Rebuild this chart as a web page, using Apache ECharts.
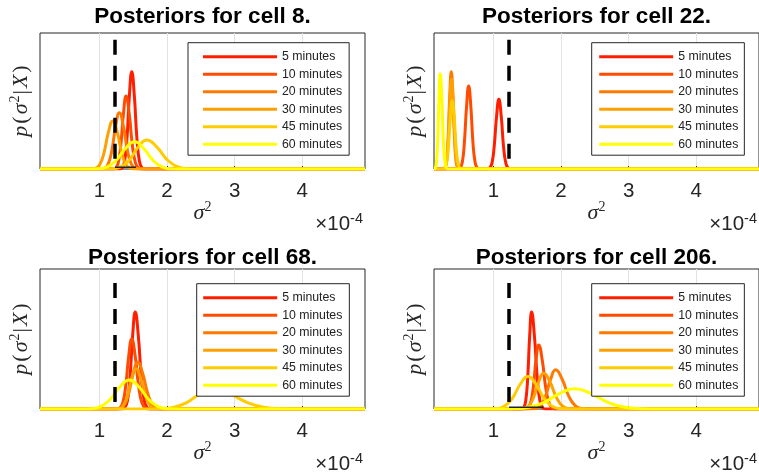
<!DOCTYPE html>
<html>
<head>
<meta charset="utf-8">
<script src="https://cdn.jsdelivr.net/npm/echarts@6/dist/echarts.min.js"></script>
<style>
  html, body { margin: 0; padding: 0; background: #fff; }
  #chart { width: 759px; height: 472px; }
</style>
</head>
<body>
<div id="chart"></div>
<script>
// ---- data (x in units of 1e-4, y as fraction of axis height) ----
const durations = ['5 minutes', '10 minutes', '20 minutes', '30 minutes', '45 minutes', '60 minutes'];
const cellIds = [8, 22, 68, 206];
const xTicks = [1, 2, 3, 4];
const trueVariance = 1.23;
const dashTop = [0.95, 0.95, 0.9, 0.9];
const markEnd = [1.54, null, null, 1.74];

const cell8 = [
  [[1.302,0],[1.337,0.008],[1.372,0.057],[1.408,0.232],[1.443,0.540],[1.478,0.715],[1.516,0.540],[1.553,0.232],[1.591,0.057],[1.628,0.008],[1.666,0]],
  [[1.199,0],[1.238,0.006],[1.277,0.043],[1.316,0.175],[1.355,0.405],[1.394,0.537],[1.441,0.405],[1.487,0.175],[1.534,0.043],[1.580,0.006],[1.627,0]],
  [[1.014,0],[1.070,0.005],[1.126,0.033],[1.183,0.135],[1.239,0.313],[1.295,0.414],[1.355,0.313],[1.415,0.135],[1.475,0.033],[1.535,0.005],[1.595,0]],
  [[0.867,0],[0.933,0.004],[0.999,0.028],[1.065,0.115],[1.131,0.267],[1.197,0.353],[1.265,0.267],[1.332,0.115],[1.400,0.028],[1.467,0.004],[1.535,0]],
  [[1.063,0],[1.190,0.002],[1.318,0.017],[1.445,0.069],[1.573,0.161],[1.700,0.213],[1.850,0.161],[2.000,0.069],[2.150,0.017],[2.300,0.002],[2.450,0]],
  [[0.845,0],[0.980,0.002],[1.115,0.016],[1.250,0.065],[1.385,0.151],[1.520,0.200],[1.655,0.151],[1.790,0.065],[1.925,0.016],[2.060,0.002],[2.195,0]]
];
const cell22 = [
  [[0.908,0],[0.942,0.006],[0.977,0.041],[1.011,0.166],[1.046,0.387],[1.080,0.512],[1.115,0.387],[1.149,0.166],[1.184,0.041],[1.218,0.006],[1.253,0]],
  [[0.476,0],[0.507,0.007],[0.539,0.049],[0.570,0.198],[0.602,0.461],[0.633,0.610],[0.665,0.461],[0.696,0.198],[0.728,0.049],[0.759,0.007],[0.791,0]],
  [[0.260,0],[0.283,0.008],[0.306,0.057],[0.330,0.232],[0.353,0.540],[0.376,0.715],[0.399,0.540],[0.423,0.232],[0.446,0.057],[0.469,0.008],[0.492,0]],
  [[0.256,0],[0.281,0.007],[0.306,0.053],[0.331,0.215],[0.355,0.498],[0.380,0.660],[0.405,0.498],[0.430,0.215],[0.454,0.053],[0.479,0.007],[0.504,0]],
  [[0.248,0],[0.276,0.006],[0.305,0.040],[0.333,0.163],[0.362,0.378],[0.390,0.500],[0.419,0.378],[0.447,0.163],[0.476,0.040],[0.504,0.006],[0.533,0]],
  [[0.122,0],[0.140,0.008],[0.158,0.056],[0.176,0.228],[0.194,0.529],[0.212,0.700],[0.235,0.529],[0.257,0.228],[0.280,0.056],[0.302,0.008],[0.325,0]]
];
const cell68 = [
  [[1.335,0],[1.374,0.008],[1.413,0.055],[1.452,0.225],[1.491,0.522],[1.530,0.692],[1.575,0.522],[1.620,0.225],[1.665,0.055],[1.710,0.008],[1.755,0]],
  [[1.253,0],[1.298,0.006],[1.343,0.040],[1.388,0.163],[1.433,0.378],[1.478,0.500],[1.529,0.378],[1.580,0.163],[1.631,0.040],[1.682,0.006],[1.733,0]],
  [[1.229,0],[1.296,0.004],[1.364,0.027],[1.431,0.109],[1.499,0.252],[1.566,0.334],[1.641,0.252],[1.716,0.109],[1.791,0.027],[1.866,0.004],[1.941,0]],
  [[1.221,0],[1.285,0.003],[1.349,0.023],[1.413,0.094],[1.476,0.219],[1.540,0.290],[1.611,0.219],[1.683,0.094],[1.754,0.023],[1.825,0.003],[1.896,0]],
  [[1.705,0],[1.900,0.002],[2.095,0.011],[2.290,0.046],[2.485,0.106],[2.680,0.140],[2.935,0.106],[3.190,0.046],[3.445,0.011],[3.700,0.002],[3.955,0]],
  [[0.730,0],[0.873,0.002],[1.016,0.017],[1.158,0.068],[1.301,0.157],[1.443,0.208],[1.586,0.157],[1.728,0.068],[1.871,0.017],[2.013,0.002],[2.156,0]]
];
const cell206 = [
  [[1.419,0],[1.448,0.008],[1.477,0.055],[1.507,0.225],[1.536,0.522],[1.565,0.692],[1.606,0.522],[1.648,0.225],[1.689,0.055],[1.730,0.008],[1.771,0]],
  [[1.464,0],[1.505,0.005],[1.546,0.037],[1.588,0.149],[1.629,0.346],[1.670,0.458],[1.723,0.346],[1.775,0.149],[1.828,0.037],[1.880,0.005],[1.933,0]],
  [[1.545,0],[1.620,0.003],[1.695,0.022],[1.770,0.091],[1.845,0.211],[1.920,0.280],[2.018,0.211],[2.115,0.091],[2.213,0.022],[2.310,0.003],[2.408,0]],
  [[1.368,0],[1.443,0.003],[1.518,0.020],[1.593,0.083],[1.668,0.193],[1.743,0.255],[1.837,0.193],[1.931,0.083],[2.024,0.020],[2.118,0.003],[2.212,0]],
  [[0.929,0],[1.045,0.003],[1.161,0.019],[1.278,0.075],[1.394,0.175],[1.510,0.232],[1.630,0.175],[1.750,0.075],[1.870,0.019],[1.990,0.003],[2.110,0]],
  [[1.075,0],[1.300,0.002],[1.525,0.012],[1.750,0.047],[1.975,0.109],[2.200,0.144],[2.448,0.109],[2.695,0.047],[2.943,0.012],[3.190,0.002],[3.438,0]]
];
const cells = [cell8, cell22, cell68, cell206];

// ---- layout / style ----
const X_MIN = 0.12, X_MAX = 4.93;
const palette = ['#ff1e00', '#ff4c00', '#ff7800', '#ffa000', '#ffcc00', '#ffff00'];
const SANS = '"Liberation Sans", Arial, sans-serif';
const SERIF = '"Liberation Serif", "DejaVu Serif", serif';
const INK = '#262626';

const panels = [
  { left: 40, top: 33, width: 325, height: 136 },
  { left: 434, top: 33, width: 325, height: 136 },
  { left: 40, top: 269, width: 325, height: 140 },
  { left: 434, top: 269, width: 325, height: 140 }
];
const legendPos = [
  { left: 188, top: 42.7, padL: 15, padR: 7 },
  { left: 591.7, top: 42.7, padL: 7.5, padR: 6 },
  { left: 196.7, top: 283.7, padL: 6.5, padR: 7 },
  { left: 591.7, top: 283.7, padL: 7.5, padR: 6 }
];
const titleY = [16.5, 16.5, 257.5, 257.5];

const series = [];
cells.forEach((curves, i) => {
  curves.forEach((pts, k) => {
    series.push({
      name: durations[k],
      type: 'line',
      xAxisIndex: i,
      yAxisIndex: i,
      data: [[X_MIN, 0]].concat(pts, [[X_MAX, 0]]),
      smooth: 0.5,
      symbol: 'none',
      lineStyle: { width: 3, color: palette[k] },
      itemStyle: { color: palette[k] },
      z: 2
    });
  });
  if (markEnd[i]) {
    series.push({
      type: 'line', xAxisIndex: i, yAxisIndex: i, silent: true, symbol: 'none',
      data: [[trueVariance, 0.012], [markEnd[i], 0.012]],
      lineStyle: { width: 1.5, color: '#222' }, z: 3
    });
  }
  series.push({
    type: 'line', xAxisIndex: i, yAxisIndex: i, silent: true, symbol: 'none',
    data: [[trueVariance, dashTop[i]], [trueVariance, 0]],
    lineStyle: { width: 3.5, color: '#000', type: [15, 11] }, z: 4
  });
});

const graphic = [];
panels.forEach((p, i) => {
  const cx = p.left + p.width / 2;
  const bottom = p.top + p.height;
  graphic.push({
    type: 'text', x: cx, y: titleY[i], z: 20,
    style: {
      text: 'Posteriors for cell ' + cellIds[i] + '.',
      fontSize: 22.5, fontWeight: 'bold', fontFamily: SANS, fill: '#000',
      align: 'center', verticalAlign: 'middle'
    }
  });
  graphic.push({
    type: 'text', x: p.left - 19, y: p.top + p.height / 2, rotation: Math.PI / 2, z: 20,
    style: {
      text: '{i|p}{n|(}{i|σ}{s|2}{n||}{i|X}{n|)}',
      align: 'center', verticalAlign: 'middle', fill: INK,
      rich: {
        i: { fontSize: 22, fontStyle: 'italic', fontFamily: SERIF, lineHeight: 26, fill: INK, padding: [0, 1, 0, 1] },
        n: { fontSize: 22, fontFamily: SERIF, lineHeight: 26, fill: INK, padding: [0, 1, 0, 1] },
        s: { fontSize: 14, fontFamily: SERIF, lineHeight: 14, verticalAlign: 'top', fill: INK }
      }
    }
  });
  graphic.push({
    type: 'text', x: cx, y: bottom + 44.5, z: 20,
    style: {
      text: '{i|σ}{s|2}',
      align: 'center', verticalAlign: 'middle', fill: INK,
      rich: {
        i: { fontSize: 22, fontStyle: 'italic', fontFamily: SERIF, lineHeight: 26, fill: INK },
        s: { fontSize: 14, fontFamily: SERIF, lineHeight: 14, verticalAlign: 'top', fill: INK }
      }
    }
  });
  graphic.push({
    type: 'text', x: p.left + p.width - 2, y: bottom + 55, z: 20,
    style: {
      text: '{n|×10}{s|-4}',
      align: 'right', verticalAlign: 'middle', fill: INK,
      rich: {
        n: { fontSize: 20.5, fontFamily: SANS, lineHeight: 26, fill: INK },
        s: { fontSize: 14.5, fontFamily: SANS, lineHeight: 14, verticalAlign: 'top', fill: INK }
      }
    }
  });
});

const chart = echarts.init(document.getElementById('chart'), null, { renderer: 'canvas' });
chart.setOption({
  animation: false,
  backgroundColor: '#fff',
  grid: panels.map(p => ({
    left: p.left, top: p.top, width: p.width, height: p.height,
    show: true, borderColor: INK, borderWidth: 1, backgroundColor: 'transparent'
  })),
  xAxis: panels.map((p, i) => ({
    type: 'value', gridIndex: i, min: X_MIN, max: X_MAX,
    axisLine: { show: false },
    axisTick: { show: true, inside: true, length: 3, customValues: xTicks, lineStyle: { color: INK } },
    axisLabel: { customValues: xTicks, fontSize: 20.5, fontFamily: SANS, color: INK, margin: 12 },
    splitLine: { show: true, lineStyle: { color: '#e3e3e3', width: 1 } }
  })),
  yAxis: panels.map((p, i) => ({
    type: 'value', gridIndex: i, min: 0, max: 1,
    axisLine: { show: false }, axisTick: { show: false },
    axisLabel: { show: false }, splitLine: { show: false }
  })),
  legend: legendPos.map(l => ({
    data: durations, orient: 'vertical', left: l.left, top: l.top,
    icon: 'rect', itemWidth: 74, itemHeight: 3, itemGap: 5.5,
    padding: [8, l.padR, 5, l.padL],
    borderColor: INK, borderWidth: 1, borderRadius: 0, backgroundColor: '#fff',
    selectedMode: false, z: 10,
    textStyle: { fontSize: 12.3, fontFamily: SANS, color: '#222', lineHeight: 12 }
  })),
  graphic: graphic,
  series: series
});
</script>
</body>
</html>
